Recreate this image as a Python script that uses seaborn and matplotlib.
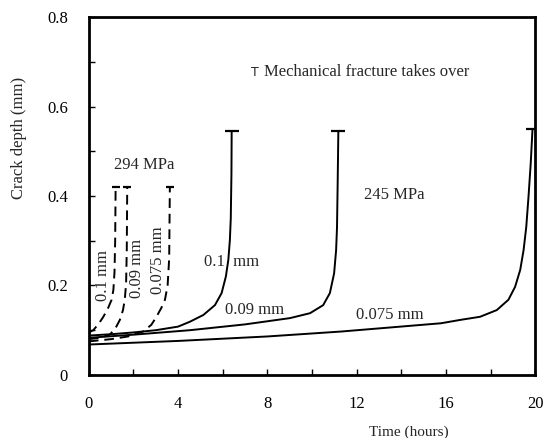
import seaborn as sns
import pandas as pd
import numpy as np
import matplotlib.pyplot as plt

# 245 MPa curves (solid), time in hours vs crack depth in mm
t_245_010 = [0, 1, 2, 3, 4, 4.53, 5.13, 5.65, 5.95, 6.14, 6.25, 6.32, 6.36, 6.39, 6.4]
d_245_010 = [0.088, 0.091, 0.095, 0.1, 0.108, 0.119, 0.134, 0.156, 0.183, 0.22, 0.257, 0.302, 0.35, 0.45, 0.545]

t_245_009 = [0, 2, 4.53, 7, 9.01, 9.91, 10.5, 10.8, 10.99, 11.08, 11.12, 11.15, 11.18]
d_245_009 = [0.083, 0.09, 0.1, 0.113, 0.127, 0.138, 0.156, 0.183, 0.227, 0.279, 0.33, 0.43, 0.545]

t_245_0075 = [0, 4, 8, 11.3, 15.78, 16.64, 17.53, 18.28, 18.8, 19.1, 19.33, 19.48, 19.6, 19.7, 19.8, 19.88]
d_245_0075 = [0.068, 0.076, 0.086, 0.097, 0.1155, 0.123, 0.13, 0.145, 0.168, 0.197, 0.235, 0.279, 0.331, 0.398, 0.473, 0.55]

# 294 MPa curves (dashed)
t_294_010 = [0, 0.2, 0.45, 0.65, 0.85, 1.02, 1.1, 1.15, 1.18, 1.2]
d_294_010 = [0.095, 0.10, 0.115, 0.13, 0.148, 0.168, 0.19, 0.23, 0.3, 0.42]

t_294_009 = [0, 0.5, 0.94, 1.2, 1.39, 1.53, 1.61, 1.67, 1.7, 1.72]
d_294_009 = [0.08, 0.083, 0.09, 0.105, 0.123, 0.145, 0.168, 0.205, 0.28, 0.42]

t_294_0075 = [0, 1, 1.76, 2.43, 2.8, 3.03, 3.25, 3.41, 3.53, 3.6, 3.63]
d_294_0075 = [0.075, 0.08, 0.086, 0.097, 0.112, 0.13, 0.15, 0.168, 0.2, 0.26, 0.42]

x_ticks = [0, 4, 8, 12, 16, 20]
y_ticks = [0, 0.2, 0.4, 0.6, 0.8]
y_tick_labels = ["0", "0.2", "0.4", "0.6", "0.8"]

sns.set_style("ticks")
plt.rcParams['font.family'] = ['Liberation Serif', 'DejaVu Serif']

fig = plt.figure(figsize=(5.45, 4.38), dpi=100)
ax = fig.add_axes([0.163, 0.144, 0.819, 0.817])

curves = [
    (t_245_010, d_245_010, "-", 10),
    (t_245_009, d_245_009, "-", 10),
    (t_245_0075, d_245_0075, "-", 10),
    (t_294_010, d_294_010, (0, (5, 3)), 6),
    (t_294_009, d_294_009, (0, (5, 3)), 6),
    (t_294_0075, d_294_0075, (0, (5, 3)), 6),
]
for t, d, ls, cap in curves:
    sns.lineplot(x=t, y=d, ax=ax, color="black", linewidth=1.4,
                 linestyle=ls, sort=False, estimator=None)
    # fracture cap at the end of each curve
    ax.plot(t[-1], d[-1], marker="_", color="black", markersize=cap, markeredgewidth=1.6)

ax.set_xlim(0, 20)
ax.set_ylim(0, 0.8)
ax.set_xticks(np.arange(0, 21, 2), minor=True)
ax.set_xticks(x_ticks)
ax.set_yticks(np.arange(0, 0.81, 0.1), minor=True)
ax.set_yticks(y_ticks)
ax.set_yticklabels(y_tick_labels)
ax.tick_params(which="both", direction="in", length=4, width=1, colors="black",
               labelsize=12, pad=15)
ax.tick_params(axis="y", pad=15)
for s in ax.spines.values():
    s.set_linewidth(2)
    s.set_color("black")

ax.set_xlabel("Time (hours)", fontsize=11)
ax.xaxis.set_label_coords(0.716, -0.14)
ax.set_ylabel("Crack depth (mm)", fontsize=12)
ax.yaxis.set_label_coords(-0.139, 0.662)

ax.text(7.42, 0.677, "T", fontsize=9, family="DejaVu Sans", ha="center", va="center")
ax.text(7.85, 0.677, "Mechanical fracture takes over", fontsize=12, va="center")
ax.text(2.47, 0.469, "294 MPa", fontsize=12, ha="center", va="center")
ax.text(13.7, 0.402, "245 MPa", fontsize=12, ha="center", va="center")
ax.text(6.39, 0.253, "0.1  mm", fontsize=12, ha="center", va="center")
ax.text(7.44, 0.145, "0.09 mm", fontsize=12, ha="center", va="center")
ax.text(13.5, 0.134, "0.075 mm", fontsize=12, ha="center", va="center")
ax.text(0.63, 0.223, "0.1 mm", fontsize=12, rotation=90, ha="center", va="center")
ax.text(2.15, 0.237, "0.09 mm", fontsize=12, rotation=90, ha="center", va="center")
ax.text(3.1, 0.257, "0.075 mm", fontsize=12, rotation=90, ha="center", va="center")

fig.savefig("out.png", dpi=100)
